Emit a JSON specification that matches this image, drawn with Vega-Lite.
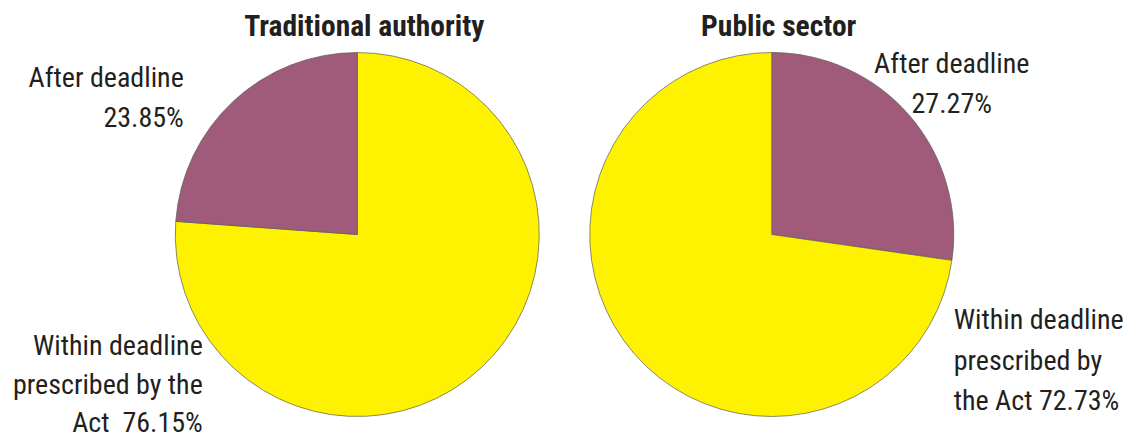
{
  "$schema": "https://vega.github.io/schema/vega-lite/v6.json",
  "width": 1129,
  "height": 405,
  "autosize": {"type": "none"},
  "padding": {"top": 32, "left": 0, "right": 0, "bottom": 0},
  "background": "white",
  "config": {"view": {"stroke": null}},
  "data": {
    "values": [
      {"group": "Traditional authority", "category": "Within deadline prescribed by the Act", "value": 76.15, "order": 1, "label": "Within deadline\nprescribed by the\nAct\u00a0 76.15%"},
      {"group": "Traditional authority", "category": "After deadline", "value": 23.85, "order": 2, "label": "After deadline\n23.85%"},
      {"group": "Public sector", "category": "After deadline", "value": 27.27, "order": 1, "label": "After deadline\n27.27%"},
      {"group": "Public sector", "category": "Within deadline prescribed by the Act", "value": 72.73, "order": 2, "label": "Within deadline\nprescribed by\nthe Act 72.73%"}
    ]
  },
  "transform": [
    {"stack": "value", "groupby": ["group"], "sort": [{"field": "order", "order": "ascending"}], "as": ["v0", "v1"]}
  ],
  "encoding": {
    "x": {
      "field": "group",
      "type": "nominal",
      "scale": {"type": "point", "domain": ["Traditional authority", "Public sector"], "padding": 0.862},
      "axis": null
    }
  },
  "layer": [
    {
      "mark": {"type": "arc", "outerRadius": 182, "stroke": "#5a5a5a", "strokeWidth": 0.7},
      "encoding": {
        "theta": {"field": "v0", "type": "quantitative", "scale": {"domain": [0, 100]}},
        "theta2": {"field": "v1"},
        "color": {
          "field": "category",
          "type": "nominal",
          "scale": {"domain": ["After deadline", "Within deadline prescribed by the Act"], "range": ["#a05a7a", "#fff200"]},
          "legend": null
        }
      }
    },
    {
      "transform": [{"filter": "datum.order == 1"}],
      "mark": {"type": "text", "font": "Roboto Condensed, Noto Sans Condensed, Roboto", "fontWeight": "bold", "fontSize": 29.5, "color": "#231f20", "align": "center", "baseline": "alphabetic", "dx": 7, "dy": -198.5},
      "encoding": {"text": {"field": "group"}}
    },
    {
      "transform": [{"filter": "datum.group == 'Traditional authority' && datum.order == 2"}],
      "mark": {"type": "text", "font": "Roboto Condensed, Noto Sans Condensed, Roboto", "fontSize": 28, "lineHeight": 39.5, "lineBreak": "\n", "color": "#231f20", "align": "right", "baseline": "alphabetic", "dx": -173.5, "dy": -147.5},
      "encoding": {"text": {"field": "label"}}
    },
    {
      "transform": [{"filter": "datum.group == 'Traditional authority' && datum.order == 1"}],
      "mark": {"type": "text", "font": "Roboto Condensed, Noto Sans Condensed, Roboto", "fontSize": 28, "lineHeight": 38.5, "lineBreak": "\n", "color": "#231f20", "align": "right", "baseline": "alphabetic", "dx": -154.5, "dy": 120.5},
      "encoding": {"text": {"field": "label"}}
    },
    {
      "transform": [{"filter": "datum.group == 'Public sector' && datum.order == 1"}],
      "mark": {"type": "text", "font": "Roboto Condensed, Noto Sans Condensed, Roboto", "fontSize": 28, "lineHeight": 40, "lineBreak": "\n", "color": "#231f20", "align": "center", "baseline": "alphabetic", "dx": 180, "dy": -161.5},
      "encoding": {"text": {"field": "label"}}
    },
    {
      "transform": [{"filter": "datum.group == 'Public sector' && datum.order == 2"}],
      "mark": {"type": "text", "font": "Roboto Condensed, Noto Sans Condensed, Roboto", "fontSize": 28, "lineHeight": 40.5, "lineBreak": "\n", "color": "#231f20", "align": "left", "baseline": "alphabetic", "dx": 182, "dy": 94.5},
      "encoding": {"text": {"field": "label"}}
    }
  ]
}
